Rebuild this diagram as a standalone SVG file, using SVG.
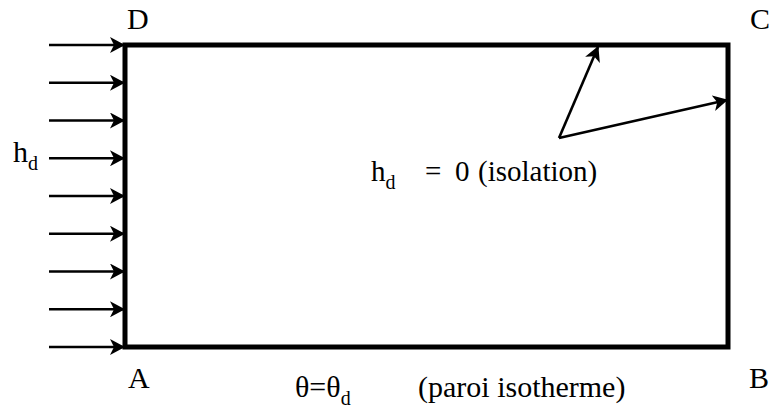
<svg xmlns="http://www.w3.org/2000/svg" width="772" height="409" viewBox="0 0 772 409">
<style>
text{font-family:"Liberation Serif","Times New Roman",serif;font-size:30px;fill:#000}
.sub{font-size:20px}
.arr{stroke:#000;stroke-width:2.6;fill:none}
</style>
<defs>
<marker id="ah" viewBox="0 0 15 16" refX="14" refY="8" markerWidth="15" markerHeight="16" markerUnits="userSpaceOnUse" orient="auto">
<path d="M0,0 L15,8 L0,16 L4,8 Z" fill="#000"/>
</marker>
</defs>
<rect width="772" height="409" fill="#fff"/>
<g id="connectors">
<line class="arr" x1="49" y1="45" x2="124" y2="45" marker-end="url(#ah)"/>
<line class="arr" x1="49" y1="82.75" x2="124" y2="82.75" marker-end="url(#ah)"/>
<line class="arr" x1="49" y1="120.5" x2="124" y2="120.5" marker-end="url(#ah)"/>
<line class="arr" x1="49" y1="158.25" x2="124" y2="158.25" marker-end="url(#ah)"/>
<line class="arr" x1="49" y1="196" x2="124" y2="196" marker-end="url(#ah)"/>
<line class="arr" x1="49" y1="233.75" x2="124" y2="233.75" marker-end="url(#ah)"/>
<line class="arr" x1="49" y1="271.5" x2="124" y2="271.5" marker-end="url(#ah)"/>
<line class="arr" x1="49" y1="309.25" x2="124" y2="309.25" marker-end="url(#ah)"/>
<line class="arr" x1="49" y1="347" x2="124" y2="347" marker-end="url(#ah)"/>
<line class="arr" x1="559" y1="138" x2="598" y2="47" marker-end="url(#ah)"/>
<line class="arr" x1="559" y1="138" x2="727" y2="100" marker-end="url(#ah)"/>
</g>
<g id="domain">
<rect x="125" y="45" width="603" height="302" fill="none" stroke="#000" stroke-width="5"/>
</g>
<g id="labels">
<text x="127" y="29">D</text>
<text x="750" y="29">C</text>
<text x="128" y="388">A</text>
<text x="749" y="388">B</text>
<text x="13" y="162">h<tspan class="sub" dy="8">d</tspan></text>
<text y="181" style="font-size:29px"><tspan x="371">h</tspan><tspan class="sub" dy="8">d</tspan><tspan x="425" dy="-8">=</tspan><tspan x="455">0</tspan><tspan x="478">(isolation)</tspan></text>
<text x="295" y="397">θ=θ<tspan class="sub" dy="8">d</tspan></text>
<text x="418" y="397">(paroi isotherme)</text>
</g>
</svg>
